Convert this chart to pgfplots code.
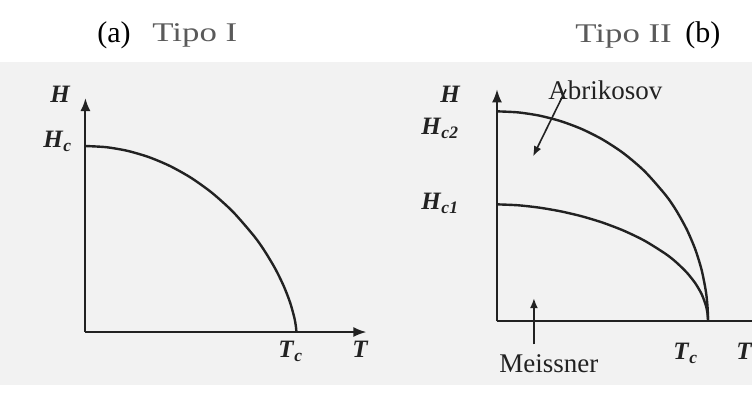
\documentclass[border=0pt]{standalone}
\usepackage{pgfplots}
\pgfplotsset{compat=1.18}
\usetikzlibrary{arrows.meta}
\usepackage{fontspec}
\setmainfont{Liberation Serif}
\newfontfamily\widefont[FakeStretch=1.29]{Liberation Serif}

\definecolor{ink}{HTML}{222222}
\definecolor{title}{HTML}{5A5A5A}

% bold italic symbol with a subscript
\newcommand{\sym}[2]{\textbf{\textit{#1}}\textsubscript{\textbf{\textit{#2}}}}

\begin{document}
\begin{tikzpicture}[x=1pt,y=1pt]
\useasboundingbox (0,0) rectangle (376,199.5);
% faint paper tone of the page
\fill[black!5] (0,7) rectangle (376,168.5);

\pgfplotsset{
  phase/.style={
    scale only axis,
    anchor=origin,
    axis lines=left,
    xtick=\empty, ytick=\empty,
    xmin=0, ymin=0,
    clip=false,
    axis line style={draw=ink, line width=1pt, -{Latex[length=6.5pt,width=5pt]}},
  },
  curve/.style={ink, line width=1.2pt, smooth, tension=0.45},
}

% ---------- (a) Tipo I ----------
\begin{axis}[phase, at={(40.5,36)}, width=140.5pt, height=117pt,
  xmax=1.332, ymax=1.258]
% critical field H_c(T)
\addplot[curve] coordinates {
  (0,1) (0.1,0.9935) (0.2,0.9738) (0.3,0.9405) (0.4,0.8929)
  (0.5,0.8295) (0.6,0.7482) (0.7,0.6455) (0.8,0.5148) (0.85,0.4346)
  (0.9,0.3398) (0.94,0.2471) (0.97,0.1591) (0.99,0.0784)
  (0.998,0.0276) (1,0)};
\end{axis}

% ---------- (b) Tipo II ----------
\begin{axis}[phase, at={(235.5,37)}, width=139.5pt, height=116pt,
  xmax=1.322, ymax=1.105]
% upper critical field H_c2(T)
\addplot[curve] coordinates {
  (0,1) (0.1,0.9950) (0.2,0.9798) (0.3,0.9539) (0.4,0.9165)
  (0.5,0.8660) (0.6,0.8000) (0.7,0.7141) (0.8,0.6000) (0.85,0.5268)
  (0.9,0.4359) (0.94,0.3412) (0.97,0.2431) (0.99,0.1411)
  (0.998,0.0632) (1,0)};
% lower critical field H_c1(T)
\addplot[curve] coordinates {
  (0,0.5570) (0.1,0.5526) (0.2,0.5414) (0.3,0.5241) (0.4,0.5006)
  (0.5,0.4703) (0.6,0.4319) (0.7,0.3834) (0.8,0.3204) (0.85,0.2805)
  (0.9,0.2315) (0.94,0.1808) (0.97,0.1287) (0.99,0.0746)
  (0.998,0.0334) (1,0)};
% region pointers
\draw[ink, line width=0.8pt, -{Latex[length=5pt,width=4pt]}]
  (axis cs:0.327,1.105) -- (axis cs:0.171,0.786);
\draw[ink, line width=0.8pt, -{Latex[length=5pt,width=4pt]}]
  (axis cs:0.175,-0.110) -- (axis cs:0.175,0.110);
\end{axis}

% titles
\node[anchor=base west, inner sep=0, font=\fontsize{15}{15}\selectfont, text=black] at (48.5,178) {(a)};
\node[anchor=base west, inner sep=0, font=\widefont\fontsize{13.5}{13.5}\selectfont, text=title] at (76,178.5) {Tipo I};
\node[anchor=base west, inner sep=0, font=\widefont\fontsize{13.5}{13.5}\selectfont, text=title] at (287.5,178) {Tipo II};
\node[anchor=base west, inner sep=0, font=\fontsize{15}{15}\selectfont, text=black] at (342.5,178) {(b)};

% axis symbols
\begin{scope}[every node/.style={anchor=base west, inner sep=0, text=ink, font=\fontsize{12.5}{12.5}\selectfont}]
% panel (a)
\node at (25,148) {\textbf{\textit{H}}};
\node at (21.5,125.5) {\sym{H}{c}};
\node at (139,20.5) {\sym{T}{c}};
\node at (176,20.5) {\textbf{\textit{T}}};
% panel (b)
\node at (220,148) {\textbf{\textit{H}}};
\node at (210.5,132) {\sym{H}{c2}};
\node at (210.5,94.5) {\sym{H}{c1}};
\node at (336.5,19.5) {\sym{T}{c}};
\node at (368,19.5) {\textbf{\textit{T}}};
\end{scope}

% region names
\node[anchor=base west, inner sep=0, text=ink, font=\fontsize{13.5}{13.5}\selectfont] at (274,149.5) {Abrikosov};
\node[anchor=base west, inner sep=0, text=ink, font=\fontsize{13.5}{13.5}\selectfont] at (249.5,13) {Meissner};
\end{tikzpicture}
\end{document}
